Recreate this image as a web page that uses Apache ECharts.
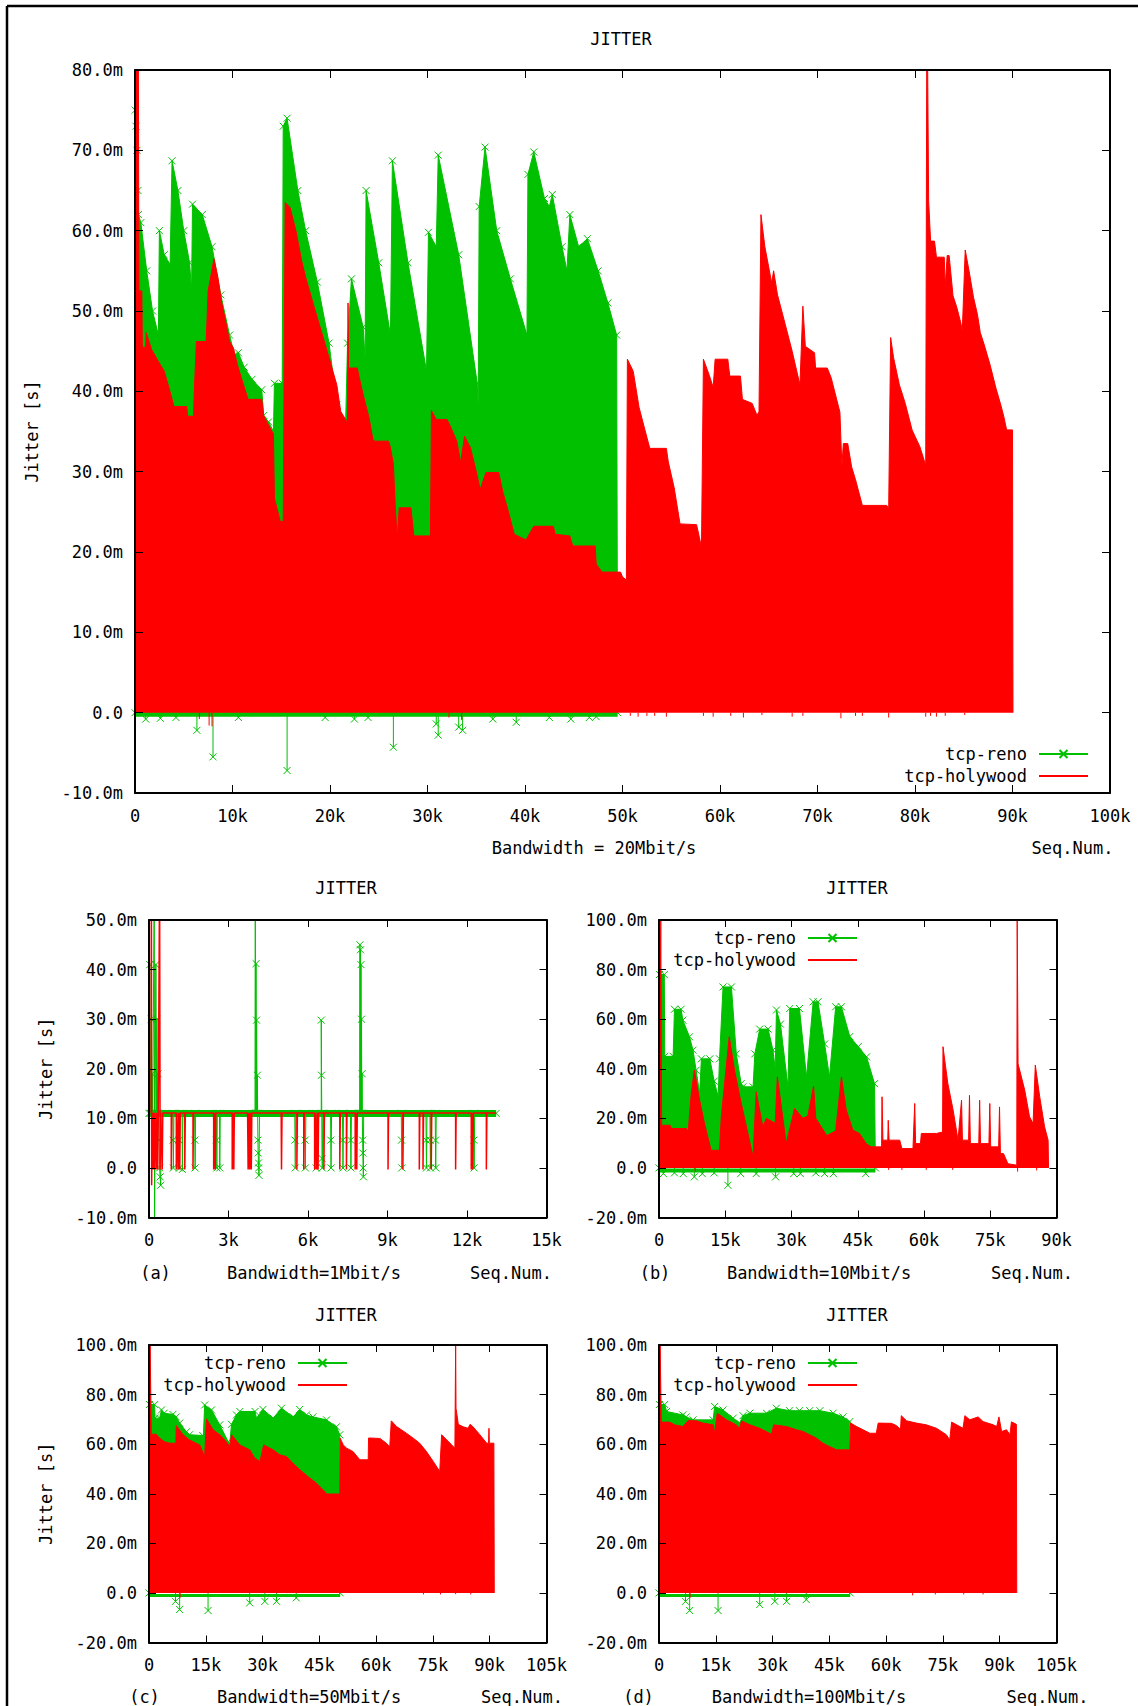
<!DOCTYPE html>
<html>
<head>
<meta charset="utf-8">
<title>JITTER</title>
<script src="https://cdn.jsdelivr.net/npm/echarts/dist/echarts.min.js"></script>
<style>
  html, body { margin: 0; padding: 0; background: #fff; }
  #chart { width: 1138px; height: 1706px; }
</style>
</head>
<body>
<div id="chart"></div>
<script>
// x values are sequence numbers in thousands, y values are jitter in milliseconds.

// ---------- Bandwidth = 20Mbit/s ----------
const renoTop = [
  [0,0],[0.02,75],[0.1,73],[0.2,70],[0.3,65],[0.35,62],[0.6,61],[1.2,55],[1.8,50],[2.4,47],
  [2.5,60],[3.0,57],[3.6,55.8],[3.8,68.7],[4.4,65],[5.0,60],[5.6,56],[5.8,52.5],[5.9,63.3],
  [6.9,62],[7.9,58],[8.8,52],[9.7,47],[10.2,44.5],[10.6,44.8],[11.2,43],[12.0,41.5],[13.0,40.2],
  [13.2,37],[13.7,36.2],[14.2,35],[14.3,41],[15.1,41],[15.2,73],[15.6,74],[16.7,65],[17.5,60],
  [18.7,53.6],[19.9,46],[20.7,38.3],[21.6,36],[21.8,46],[22.2,54],[23.4,48],[23.6,44],[23.7,65],
  [25.0,56],[26.2,47],[26.4,68.7],[28.0,56],[29.9,42.5],[30.1,59.8],[30.9,58],[31.1,69.4],
  [33.2,57],[35.1,41],[35.2,38],[35.3,63],[35.9,70.4],[37.1,60],[38.5,54],[40.2,47],[40.3,67],
  [40.9,69.8],[42.0,64],[42.5,63],[42.8,64.5],[43.8,58],[44.3,55],[44.6,62],[45.5,58],[46.4,59],
  [47.5,55],[48.5,51],[49.4,47],[49.5,0]
];
const renoTopBase = [[0,-0.2],[49.5,-0.2]];
const renoTopDips = [
  [1.1,-0.8],[2.6,-0.7],[4.2,-0.6],[6.35,-2.2],[8.0,-5.5],[10.6,-0.6],[15.6,-7.2],[19.5,-0.6],
  [22.5,-0.8],[23.9,-0.6],[26.5,-4.3],[30.9,-1.4],[31.1,-2.8],[33.2,-1.8],[33.6,-2.2],[36.7,-0.8],
  [39.1,-1.2],[42.5,-0.6],[44.7,-0.8],[46.6,-0.6],[47.3,-0.5]
];
const holyTop = [
  [0,0],[0.1,80],[0.35,80],[0.4,52.5],[0.7,52.5],[0.75,45.5],[1.1,45.5],[1.15,47.3],[1.7,45.2],
  [2.6,43.3],[3.0,42.5],[3.4,40.8],[4.0,38.1],[5.3,38.1],[5.4,36.9],[6.0,36.9],[6.1,40.6],
  [6.3,46.2],[7.3,46.2],[7.5,52.5],[8.1,56.5],[8.5,54.2],[8.9,51],[9.3,48.7],[9.7,46.2],
  [10.1,45.4],[10.5,43.3],[10.9,41.7],[11.6,39],[13.0,39],[13.2,37],[13.6,36],[14.2,34.7],
  [14.3,26.7],[14.9,23.8],[15.2,23.8],[15.4,63.5],[15.9,62.9],[16.5,60],[17.1,56.2],[17.5,54.2],
  [18.3,50.8],[19.1,47.5],[19.9,44.2],[20.7,40.8],[21.1,37.5],[21.8,36.1],[21.85,51],[21.9,42.9],
  [22.8,42.9],[23.0,41.7],[23.4,39.6],[24.0,36.7],[24.4,34],[24.6,33.8],[26.0,33.8],[26.2,33],
  [26.5,30.9],[26.7,25.5],[26.9,21.7],[27.1,25.5],[28.3,25.5],[28.6,22],[30.3,22],[30.4,37.6],
  [30.9,36.5],[32.0,36.5],[32.4,35.5],[33.0,33.8],[33.4,31.1],[33.8,34.4],[34.4,33],[35.0,30],
  [35.4,27.8],[36.0,29.9],[37.3,29.9],[37.7,27.6],[38.3,25],[38.9,22.2],[40.1,21.5],[40.9,23.2],
  [42.9,23.2],[43.1,22.2],[44.6,22],[44.9,20.75],[47.2,20.75],[47.3,18.5],[47.9,17.5],[49.8,17.5],
  [50.0,16.9],[50.4,16.5],[50.5,44],[51.1,42.5],[51.7,38],[52.3,35.2],[52.8,32.9],[54.5,32.9],
  [54.7,31.2],[55.3,28],[55.9,23.5],[57.6,23.4],[58.1,20.6],[58.3,44],[58.9,42],[59.3,40.5],
  [59.5,44],[60.8,44],[61.0,41.9],[62.1,41.9],[62.3,39],[63.3,38.5],[63.8,37],[64.0,37.5],
  [64.2,62],[64.6,58],[65.3,53.5],[65.5,55],[65.9,52],[66.7,48.3],[67.4,45],[68.2,40.8],
  [68.5,50.6],[68.75,45.6],[69.7,44.8],[69.8,42.9],[71.0,42.9],[71.4,41.7],[72.3,37.4],
  [72.5,30.6],[72.65,33.5],[73.1,33.5],[73.5,30.6],[73.9,29],[74.6,25.8],[77.1,25.8],[77.3,25.4],
  [77.5,46.7],[77.8,44.2],[78.4,40.8],[79.0,38.5],[79.7,35.2],[80.5,33.1],[81.1,30.8],[81.2,80],
  [81.3,80],[81.4,63.7],[81.6,58.7],[82.0,58.7],[82.2,56.7],[83.0,56.7],[83.1,53],[83.3,56.9],
  [83.5,56.9],[83.9,51.9],[84.3,50.4],[84.7,48.5],[84.85,47.5],[85.15,57.6],[85.6,54.6],[86.0,51.7],
  [86.4,49.6],[86.7,47.3],[87.1,45.8],[87.7,43.3],[88.3,40.4],[88.8,38.3],[89.1,36.9],[89.4,35.2],
  [90.0,35.2],[90.05,0]
];
const holyTopDips = [
  [6.6,-0.8],[7.6,-1.6],[7.9,-1.7],[32.2,-0.6],[33.5,-0.9],[50.8,-0.4],[51.6,-0.5],[52.5,-0.4],
  [53.3,-0.4],[54.5,-0.5],[58.3,-0.4],[59.3,-0.5],[61.1,-0.4],[62.4,-0.6],[64.3,-0.3],[67.4,-0.5],
  [68.5,-0.4],[72.4,-0.7],[73.9,-0.4],[74.6,-0.4],[77.3,-0.6],[81.1,-0.5],[81.6,-0.4],[82.2,-0.5],
  [83.1,-0.4],[85.1,-0.3]
];

// ---------- (a) Bandwidth = 1Mbit/s ----------
const renoABand = [[0,11],[13.1,11]];
const renoA = [
  [0,11],[0.03,41],[0.05,11],[0.08,30],[0.1,11],[0.12,19],[0.14,11],[0.2,60],[0.21,-12],[0.23,11],
  [0.26,41],[0.28,11],[0.3,30],[0.32,11],[0.34,19],[0.36,11],[0.38,5.6],[0.4,0],[0.42,-1.8],
  [0.44,-3.5],[0.46,11],
  [0.9,11],[0.91,5.6],[0.92,0],[0.94,11],[1.13,11],[1.14,5.6],[1.15,0],[1.17,11],
  [1.25,11],[1.26,-0.3],[1.28,11],[1.72,11],[1.73,5.6],[1.74,0],[1.76,11],
  [2.54,11],[2.55,5.6],[2.56,0],[2.58,11],[2.66,11],[2.67,0],[2.69,11],
  [4.0,11],[4.01,60],[4.03,11],[4.04,41.2],[4.05,11],[4.06,29.8],[4.08,11],[4.09,18.7],[4.1,11],
  [4.11,5.6],[4.12,3],[4.13,1],[4.14,0],[4.15,-1.5],[4.17,11],
  [5.5,11],[5.51,5.6],[5.52,0],[5.54,11],[5.88,11],[5.89,5.6],[5.9,0],[5.92,11],
  [6.3,11],[6.31,0],[6.33,11],[6.5,11],[6.5,29.8],[6.51,18.7],[6.52,11],[6.53,1.9],[6.54,0],[6.56,11],
  [6.85,11],[6.86,5.6],[6.87,0],[6.89,11],[7.3,11],[7.31,5.6],[7.32,0],[7.34,11],
  [7.6,11],[7.61,5.6],[7.62,0],[7.64,11],
  [7.95,11],[7.96,45],[7.97,11],[7.98,44],[7.99,11],[8.0,41],[8.01,11],[8.02,30],[8.03,11],
  [8.04,19],[8.05,11],[8.06,5.6],[8.07,3],[8.08,0],[8.09,-1.8],[8.1,11],
  [9.52,11],[9.53,5.6],[9.54,0],[9.56,11],[10.45,11],[10.46,5.6],[10.47,0],[10.49,11],
  [10.6,11],[10.61,5.6],[10.62,0],[10.64,11],[10.8,11],[10.81,5.6],[10.82,0],[10.84,11],
  [12.25,11],[12.26,5.6],[12.27,0],[12.29,11],[13.1,11]
];
const holyA = [
  [0.08,11.1],[0.09,60],[0.1,-3.5],[0.12,11.1],[0.15,-0.3],[0.17,11.1],[0.2,-0.3],[0.22,11.1],
  [0.27,-0.3],[0.29,11.1],[0.33,-0.3],[0.35,11.1],[0.4,60],[0.42,-0.3],[0.44,11.1],[0.5,-0.3],
  [0.52,11.1],[0.84,11.1],[0.84,-0.3],[0.86,11.1],[1.03,11.1],[1.03,-0.3],[1.05,11.1],[1.1,-0.3],
  [1.12,11.1],[1.16,-0.3],[1.18,11.1],[1.35,11.1],[1.35,-0.3],[1.37,11.1],[1.66,11.1],[1.66,-0.3],
  [1.68,11.1],[2.44,11.1],[2.44,-0.3],[2.46,11.1],[2.5,-0.3],[2.52,11.1],[3.14,11.1],[3.14,-0.3],
  [3.16,11.1],[3.2,-0.3],[3.22,11.1],[3.72,11.1],[3.74,-0.3],[3.76,11.1],[3.8,-0.3],[3.82,11.1],
  [3.86,-0.3],[3.88,11.1],[4.99,11.1],[4.99,8.3],[5.0,-0.3],[5.02,11.1],[5.58,11.1],[5.58,-0.3],
  [5.6,11.1],[5.84,11.1],[5.84,-0.3],[5.86,11.1],[6.25,11.1],[6.25,-0.3],[6.27,11.1],[6.32,-0.3],
  [6.34,11.1],[6.38,-0.3],[6.4,11.1],[6.6,11.1],[6.6,-0.3],[6.62,11.1],[7.2,11.1],[7.2,-0.3],
  [7.22,11.1],[7.45,11.1],[7.45,-0.3],[7.47,11.1],[7.78,11.1],[7.78,-0.3],[7.8,11.1],[7.84,-0.3],
  [7.86,11.1],[9.02,11.1],[9.02,-0.3],[9.04,11.1],[9.58,11.1],[9.58,-0.3],[9.6,11.1],[10.2,11.1],
  [10.2,-0.3],[10.22,11.1],[10.34,11.1],[10.34,-0.3],[10.36,11.1],[10.65,11.1],[10.65,-0.3],
  [10.67,11.1],[11.57,11.1],[11.57,-0.3],[11.59,11.1],[12.16,11.1],[12.16,-0.3],[12.18,11.1],
  [12.22,-0.3],[12.24,11.1],[12.73,11.1],[12.73,-0.3],[12.75,11.1],[13.1,11.1]
];

// ---------- (b) Bandwidth = 10Mbit/s ----------
const renoB = [
  [0,0],[0.1,78],[1.2,78],[1.3,45],[3.2,45],[3.5,64],[5.0,64],[5.4,59.6],[6.9,52.9],[7.7,47.5],
  [8.4,39.4],[9.2,30],[9.6,44],[11.5,44],[12.5,35],[13.4,28.7],[13.7,44],[14.5,73],[16.4,73],
  [17.5,46],[18.6,34],[19.0,32.7],[21.3,32.7],[21.7,46],[22.8,56],[24.7,56],[25.8,47.5],[26.3,40],
  [26.6,63.7],[27.5,58],[29.2,32.7],[29.6,64.3],[31.8,64.3],[33.4,36.7],[34.9,67],[36.0,67],
  [37.5,50],[38.6,36.7],[40.0,65],[41.3,65],[43.2,53],[45.1,48.9],[47.0,44.8],[48.8,34],[49.0,0]
];
const renoBBase = [[0,-1],[49.0,-1]];
const renoBDips = [
  [1.0,-2.3],[3.5,-2.0],[5.5,-2.3],[8.0,-3.6],[9.8,-2.3],[12.5,-2.0],[15.6,-7.0],[18.5,-2.3],
  [22.0,-2.3],[26.4,-3.6],[30.5,-2.3],[32.0,-2.3],[35.5,-2.0],[37.5,-2.3],[39.5,-2.3],[46.8,-2.3]
];
const holyB = [
  [0,0],[0.4,100],[0.5,100],[0.6,17.2],[2.5,17.2],[2.8,15.9],[6.2,15.9],[6.6,14.5],[7.3,30],
  [8.0,39.4],[9.2,27.3],[10.3,17.9],[11.8,7.1],[13.7,7.1],[14.1,20.6],[15.9,52.9],[17.1,39.4],
  [18.3,28.7],[19.8,16.6],[21.3,4.4],[22.0,30.7],[23.5,16.6],[24.3,20],[26.3,18],[26.8,36.7],
  [28.8,9.8],[30.7,24],[32.6,20],[33.7,21],[35.0,33],[35.5,20],[38.0,13],[40.0,15],[41.3,36.7],
  [42.4,23.3],[43.9,15.2],[45.4,13.9],[46.9,9.8],[48.0,8.5],[50.4,8.5],[50.5,28.7],[50.7,11.2],
  [51.8,11.2],[51.9,19.2],[52.1,11.2],[54.5,11.2],[55.0,7.8],[57.5,7.8],[57.9,26],[58.1,9.8],
  [59.2,9.8],[59.4,13.9],[62.8,13.9],[64.2,14.5],[64.3,48.9],[65.4,34],[66.6,23.3],[67.7,11.2],
  [68.5,27.3],[68.7,11.2],[70.1,11.2],[70.3,29.3],[70.5,9.8],[72.4,9.8],[72.6,27.3],[72.8,9.8],
  [74.7,9.8],[74.9,26],[75.1,8.5],[76.9,8.5],[77.1,24.6],[77.3,5.8],[78.0,5.8],[79.0,1.7],
  [81.0,1.1],[81.1,100],[81.3,42],[82.8,31.4],[83.9,20.6],[84.7,17.9],[85.2,41.5],[86.2,28.7],
  [87.3,16.6],[88.1,11.2],[88.2,0]
];
const holyBDips = [[8.2,-1.5],[52.0,-0.8],[55.0,-0.8],[60.5,-0.8],[66.5,-0.8],[81.2,-1.5],[85.5,-1.0]];

// ---------- (c) Bandwidth = 50Mbit/s ----------
const renoC = [
  [0,0],[0.1,76],[1.5,76],[1.6,70.5],[2.8,70.5],[3.3,73.8],[4.0,72.5],[6.3,72],[7.2,71],[8.1,68.5],
  [9.9,65],[10.7,63.8],[14.2,63.5],[14.3,61],[14.7,75.8],[16.5,73.8],[18.7,67.8],[20.9,61],
  [21.3,59.7],[21.8,68],[23.1,71.8],[24.0,73.2],[28.0,73.2],[28.4,70.5],[30.1,74],[32.8,70.5],
  [35.0,74.5],[38.1,71],[39.8,74],[41.6,71.8],[43.3,71],[46.9,69.8],[49.5,67],[50.4,63.8],[50.5,0]
];
const renoCBase = [[0,-1],[50.5,-1]];
const renoCDips = [[7.0,-3.4],[8.1,-6.7],[15.6,-7.1],[26.6,-4.0],[30.6,-3.4],[33.7,-3.4],[38.9,-2.0]];
const holyC = [
  [0,0],[0.3,100],[0.4,100],[0.6,64],[1.9,64],[2.8,62.4],[4.1,61],[5.5,60.4],[7.1,60.4],[7.2,67.5],
  [9.0,63.8],[10.7,61.7],[13.4,59.7],[14.7,55],[15.2,70.2],[16.9,65.8],[18.7,63.8],[20.4,61],
  [21.3,59],[21.8,63.8],[24.0,59.7],[26.6,57.7],[27.9,54.4],[29.3,53],[30.3,59.7],[32.8,57.7],
  [34.5,55.7],[36.3,55],[38.0,52.3],[39.8,49.7],[42.5,46.3],[44.2,44.3],[46.4,40.9],[46.9,39.9],
  [50.4,39.9],[50.5,62.4],[51.3,59.7],[52.2,58.4],[53.9,57],[55.7,53.7],[57.9,53.7],[58.0,62.5],
  [61.0,62.3],[62.7,60.4],[63.6,59],[64.0,69.4],[65.4,67.1],[68.0,64.4],[69.8,62.4],[71.5,60.4],
  [73.3,57],[75.1,53],[76.8,49],[77.3,63.8],[80.8,58.4],[81.0,100],[81.1,74.5],[81.7,68],[83.0,67],
  [84.3,66.4],[84.8,68],[85.6,67],[87.4,63.8],[89.2,60.4],[89.7,60.4],[89.8,66.4],[89.9,60.4],
  [91.1,60.4],[91.2,0]
];
const holyCDips = [[8.2,-2.0],[72.5,-0.6],[77.0,-0.6],[81.0,-0.5],[85.0,-0.6]];

// ---------- (d) Bandwidth = 100Mbit/s ----------
const renoD = [
  [0,0],[0.1,76],[1.5,76],[2.0,73.2],[6.3,71.8],[7.2,71],[9.0,69.8],[14.3,69.8],[14.7,75.2],
  [16.9,73.8],[19.6,70.5],[21.3,68.5],[22.2,71.5],[24.0,72.5],[28.4,72.5],[31.0,74.5],[34.5,73.5],
  [37.1,73.5],[39.8,73.5],[42.5,73.5],[46.0,72.5],[48.6,71],[50.4,69.1],[50.5,0]
];
const renoDBase = [[0,-1],[50.5,-1]];
const renoDDips = [[7.0,-3.4],[8.1,-7.1],[15.6,-7.1],[26.6,-4.7],[30.6,-3.4],[33.7,-3.4],[38.9,-2.7]];
const holyD = [
  [0,0],[0.3,100],[0.4,100],[0.6,68.9],[2.8,68.9],[4.1,67.8],[6.3,67.1],[7.7,69.5],[9.9,69.4],
  [11.6,68.5],[14.3,67.8],[14.7,64.4],[15.4,72.5],[17.8,69.8],[20.4,67.8],[21.3,66.4],[21.8,69.4],
  [24.0,67.8],[26.6,66.4],[29.7,64],[30.3,67.8],[33.7,67.1],[36.3,65.8],[38.1,65.1],[39.8,63.8],
  [41.6,62.4],[43.3,60.4],[45.1,59],[46.9,57.7],[50.4,57.7],[50.6,68.5],[52.2,67.1],[53.9,65.8],
  [55.7,64.4],[57.4,64.4],[57.9,68.5],[61.4,68.4],[62.7,67.5],[63.8,66],[64.0,71.5],[65.4,69.4],
  [68.0,68.5],[70.6,67.8],[73.3,66.4],[75.9,63.8],[76.8,61.7],[77.3,68.9],[80.3,66.4],[80.8,71.5],
  [82.1,69.8],[84.3,71],[85.6,69.1],[88.3,67.8],[89.2,67.1],[89.8,71],[90.5,65.1],[91.8,65.8],
  [92.7,63.8],[93.1,69],[94.4,68],[94.5,0]
];
const holyDDips = [[8.2,-2.0],[67.0,-1.0],[73.0,-0.6],[80.5,-0.6],[85.6,-0.6]];

// ---------- axes and captions ----------
const xRanges = [[0,100,10],[0,15,3],[0,90,15],[0,105,15],[0,105,15]];   // thousands
const yRanges = [[-10,80,10],[-10,50,10],[-20,100,20],[-20,100,20],[-20,100,20]]; // ms
const bandwidthLabels = ['Bandwidth = 20Mbit/s','Bandwidth=1Mbit/s','Bandwidth=10Mbit/s','Bandwidth=50Mbit/s','Bandwidth=100Mbit/s'];
const panelTags = ['', '(a)', '(b)', '(c)', '(d)'];
const seriesNames = ['tcp-reno', 'tcp-holywood'];

// ---------- layout ----------
const gridBoxes = [
  {left: 135, top: 70, width: 975, height: 723},
  {left: 149, top: 920, width: 397.5, height: 297.5},
  {left: 659, top: 920, width: 397.5, height: 297.5},
  {left: 149, top: 1345, width: 397.5, height: 297.5},
  {left: 659, top: 1345, width: 397.5, height: 297.5}
];
const tickLen = [8, 7, 7, 7, 7];
const hasYName = [true, true, false, true, false];
const titleX = [621, 346, 857, 346, 857];
const titleY = [39, 888, 888, 1315, 1315];
const captionY = [848, 1272.5, 1272.5, 1697, 1697];
const tagX = [0, 155.5, 655, 144.5, 638.5];
const bwX = [594, 314, 819, 309, 809];
const seqX = [1072.5, 511, 1032, 522, 1047.5];
const legendRight = [49, 0, 280, 790, 280];
const legendTop = [745.5, 0, 929.5, 1354.5, 1354.5];
const hasLegend = [true, false, true, true, true];

const FONT = 'DejaVu Sans Mono';
const GREEN = '#00c000';
const RED = '#ff0000';
const CROSS = 'path://M0,0L10,10M10,0L0,10';
const TXT = {fontFamily: FONT, fontSize: 17, color: '#000', fontWeight: 'normal'};
// holywood is plotted after reno, so it is kept on a higher layer
const layerOf = color => (color === RED ? 3 : 2);

const xAxes = [], yAxes = [];
gridBoxes.forEach((b, g) => {
  const [x0, x1, xi] = xRanges[g];
  const [y0, y1, yi] = yRanges[g];
  const line = {show: true, onZero: false, lineStyle: {color: '#000', width: 2}};
  const tick = {show: true, inside: true, length: tickLen[g], lineStyle: {color: '#000', width: 1}};
  const common = {type: 'value', gridIndex: g, axisLine: line, axisTick: tick, splitLine: {show: false}, z: 5};
  xAxes.push(Object.assign({}, common, {position: 'bottom', min: x0, max: x1, interval: xi,
    axisLabel: Object.assign({}, TXT, {margin: 14, formatter: v => v === 0 ? '0' : v + 'k'})}));
  xAxes.push(Object.assign({}, common, {position: 'top', min: x0, max: x1, interval: xi, axisLabel: {show: false}}));
  yAxes.push(Object.assign({}, common, {position: 'left', min: y0, max: y1, interval: yi,
    axisLabel: Object.assign({}, TXT, {margin: 12, formatter: v => v === 0 ? '0.0' : v.toFixed(1) + 'm'}),
    name: hasYName[g] ? 'Jitter [s]' : '', nameLocation: 'middle', nameGap: 95,
    nameTextStyle: Object.assign({}, TXT)}));
  yAxes.push(Object.assign({}, common, {position: 'right', min: y0, max: y1, interval: yi, axisLabel: {show: false}}));
});

// filled envelope of the densely plotted samples
function areaSeries(name, g, data, color, marked) {
  return {
    type: 'line', name, xAxisIndex: 2 * g, yAxisIndex: 2 * g, data, z: layerOf(color),
    symbol: marked ? CROSS : 'line', showSymbol: !!marked, symbolSize: 7,
    itemStyle: {color, borderColor: color, borderWidth: 1},
    lineStyle: {color, width: 1},
    areaStyle: {color, opacity: 1},
    silent: true, clip: true, animation: false
  };
}
// plain polyline (optionally with x marks at every sample)
function lineSeries(name, g, data, color, width, marked) {
  return {
    type: 'line', name, xAxisIndex: 2 * g, yAxisIndex: 2 * g, data, z: layerOf(color),
    symbol: marked ? CROSS : 'none', showSymbol: !!marked, symbolSize: 7,
    itemStyle: {color, borderColor: color, borderWidth: 1},
    lineStyle: {color, width},
    silent: true, clip: true, animation: false
  };
}
// isolated impulses from zero, optionally ending in an x mark
function impulseSeries(name, g, data, color, marked) {
  return {
    type: 'custom', name, xAxisIndex: 2 * g, yAxisIndex: 2 * g, data, z: layerOf(color),
    encode: {x: 0, y: 1}, clip: true, silent: true, animation: false,
    renderItem(params, api) {
      const x = api.value(0), y = api.value(1);
      const a = api.coord([x, 0]), b = api.coord([x, y]);
      const st = {stroke: color, lineWidth: 1};
      const ch = [{type: 'line', shape: {x1: a[0], y1: a[1], x2: b[0], y2: b[1]}, style: st}];
      if (marked) {
        const s = 3.5;
        ch.push({type: 'line', shape: {x1: b[0] - s, y1: b[1] - s, x2: b[0] + s, y2: b[1] + s}, style: st});
        ch.push({type: 'line', shape: {x1: b[0] - s, y1: b[1] + s, x2: b[0] + s, y2: b[1] - s}, style: st});
      }
      return {type: 'group', children: ch};
    }
  };
}

const [RENO, HOLY] = seriesNames;
const series = [
  areaSeries(RENO, 0, renoTop, GREEN, true),
  lineSeries(RENO, 0, renoTopBase, GREEN, 5, false),
  impulseSeries(RENO, 0, renoTopDips, GREEN, true),
  areaSeries(HOLY, 0, holyTop, RED, false),
  impulseSeries(HOLY, 0, holyTopDips, RED, false),

  lineSeries(RENO, 1, renoABand, GREEN, 7, false),
  lineSeries(RENO, 1, renoA, GREEN, 1, true),
  lineSeries(HOLY, 1, holyA, RED, 1.5, false),

  areaSeries(RENO, 2, renoB, GREEN, true),
  lineSeries(RENO, 2, renoBBase, GREEN, 4, false),
  impulseSeries(RENO, 2, renoBDips, GREEN, true),
  areaSeries(HOLY, 2, holyB, RED, false),
  impulseSeries(HOLY, 2, holyBDips, RED, false),

  areaSeries(RENO, 3, renoC, GREEN, true),
  lineSeries(RENO, 3, renoCBase, GREEN, 3, false),
  impulseSeries(RENO, 3, renoCDips, GREEN, true),
  areaSeries(HOLY, 3, holyC, RED, false),
  impulseSeries(HOLY, 3, holyCDips, RED, false),

  areaSeries(RENO, 4, renoD, GREEN, true),
  lineSeries(RENO, 4, renoDBase, GREEN, 3, false),
  impulseSeries(RENO, 4, renoDDips, GREEN, true),
  areaSeries(HOLY, 4, holyD, RED, false),
  impulseSeries(HOLY, 4, holyDDips, RED, false)
];

const legends = [];
gridBoxes.forEach((b, g) => {
  if (!hasLegend[g]) return;
  legends.push({
    orient: 'vertical', align: 'right', right: legendRight[g], top: legendTop[g], padding: 0,
    itemGap: 5, itemWidth: 49, itemHeight: 10, selectedMode: false, z: 6,
    data: seriesNames,
    lineStyle: {width: 2},
    textStyle: Object.assign({}, TXT, {padding: [0, 7, 0, 0]})
  });
});

const titles = gridBoxes.map((b, g) => ({
  text: 'JITTER', left: titleX[g], top: titleY[g] - 9, textAlign: 'center', padding: 0,
  textStyle: Object.assign({}, TXT)
}));

const textFont = '17px "' + FONT + '"';
const graphics = [
  {type: 'line', shape: {x1: 7, y1: 6, x2: 1138, y2: 6}, style: {stroke: '#000', lineWidth: 2.5}},
  {type: 'line', shape: {x1: 7, y1: 6, x2: 7, y2: 1706}, style: {stroke: '#000', lineWidth: 2.5}}
];
gridBoxes.forEach((b, g) => {
  const add = (x, text) => graphics.push({type: 'text', x, y: captionY[g],
    style: {text, font: textFont, fill: '#000', align: 'center', verticalAlign: 'middle'}});
  if (panelTags[g]) add(tagX[g], panelTags[g]);
  add(bwX[g], bandwidthLabels[g]);
  add(seqX[g], 'Seq.Num.');
});

const chart = echarts.init(document.getElementById('chart'), null, {renderer: 'svg'});
chart.setOption({
  backgroundColor: '#fff',
  animation: false,
  title: titles,
  legend: legends,
  grid: gridBoxes.map(b => Object.assign({outerBoundsMode: 'none', containLabel: false}, b)),
  xAxis: xAxes,
  yAxis: yAxes,
  series,
  graphic: graphics
});
</script>
</body>
</html>
